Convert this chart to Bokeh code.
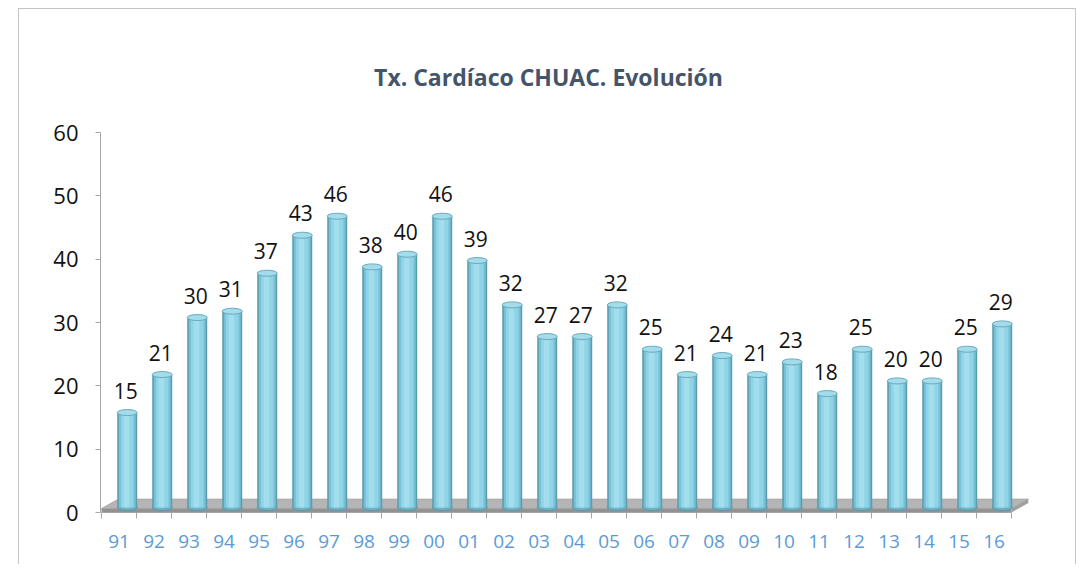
from bokeh.plotting import figure
from bokeh.models import Range1d, FixedTicker, ColumnDataSource, Label
from bokeh.transform import dodge
from bokeh.embed import file_html
from bokeh.resources import INLINE
from bokeh.core.properties import value

# ---- data ----
years = ["91", "92", "93", "94", "95", "96", "97", "98", "99", "00", "01", "02", "03",
         "04", "05", "06", "07", "08", "09", "10", "11", "12", "13", "14", "15", "16"]
transplants = [15, 21, 30, 31, 37, 43, 46, 38, 40, 46, 39, 32, 27,
               27, 32, 25, 21, 24, 21, 23, 18, 25, 20, 20, 25, 29]
y_ticks = [0, 10, 20, 30, 40, 50, 60]
title_text = "Tx. Cardíaco CHUAC. Evolución"

# ---- geometry helpers (pixel scale) ----
PX_X = 35.0           # px per category
PX_Y = 380.0 / 60.0   # px per unit
lift = 0.78           # 3D depth lift of bars (units)
shift = 0.235         # 3D depth shift of bars (categories)

idx = list(range(len(years)))
src = ColumnDataSource(dict(
    x=idx,
    top=[v + lift for v in transplants],
    base=[lift] * len(transplants),
    label=[str(v) for v in transplants],
    ly=transplants,
))

x0 = -0.5 - 1.0 / PX_X
frame_w = 935
frame_h = 462
p = figure(width=1058, height=556,
           x_range=Range1d(x0, x0 + frame_w / PX_X),
           y_range=Range1d(0, frame_h / PX_Y),
           output_backend="svg", toolbar_location=None,
           min_border_left=81, min_border_right=42,
           min_border_top=41, min_border_bottom=53)
p.styles = {"margin-left": "18px", "margin-top": "8px",
            "border-top": "1px solid #C4C4C4",
            "border-left": "1px solid #C4C4C4",
            "border-right": "1px solid #C4C4C4"}
p.outline_line_color = None
p.xgrid.visible = False
p.ygrid.visible = False
p.background_fill_color = "white"
p.border_fill_color = "white"

# ---- floor ----
n = len(years)
fx0, fx1 = -0.5, n - 0.5
ddx = 0.48
p.patch([fx0, fx1, fx1 + ddx, fx0 + ddx], [0.6, 0.6, 2.1, 2.1],
        fill_color="#B5B5B5", line_color="#A3A3A3", line_width=1)
p.patch([fx0, fx1, fx1, fx0], [0, 0, 0.6, 0.6],
        fill_color="#929292", line_color=None)
p.patch([fx1, fx1 + ddx, fx1 + ddx, fx1], [0, 1.5, 2.1, 0.6],
        fill_color="#A0A0A0", line_color=None)

# ---- cylinders ----
xs = dodge("x", shift, range=p.x_range)
bw = 20.0 / PX_X
eh = 6.0 / PX_Y
p.ellipse(x=xs, y="base", width=bw, height=eh, source=src,
          fill_color="#6FB2C6", line_color="#5B97A8", line_width=1)
p.vbar(x=xs, bottom="base", top="top", width=bw, source=src,
       fill_color="#5B9CAF", line_color=None)
p.vbar(x=xs, bottom="base", top="top", width=bw * 0.84, source=src,
       fill_color="#7BC1D6", line_color=None)
p.vbar(x=xs, bottom="base", top="top", width=bw * 0.62, source=src,
       fill_color="#8FD4E7", line_color=None)
p.vbar(x=dodge("x", shift - 0.02, range=p.x_range), bottom="base", top="top",
       width=bw * 0.28, source=src, fill_color="#A4DEEE", line_color=None)
p.ellipse(x=xs, y="top", width=bw, height=eh, source=src,
          fill_color="#A3DCEB", line_color="#6AAABD", line_width=1)

# ---- value labels ----
p.text(x=dodge("x", 0.19, range=p.x_range), y="ly", text="label", source=src,
       text_align="center", text_baseline="middle", y_offset=-27,
       text_font=value("Open Sans"), text_font_size=value("21px"),
       text_color="#111111")

# ---- axes ----
ya = p.yaxis[0]
ya.ticker = FixedTicker(ticks=y_ticks)
ya.bounds = (0, 60)
ya.axis_line_color = "#A6A6A6"
ya.major_tick_line_color = "#A6A6A6"
ya.major_tick_in = 0
ya.major_tick_out = 5
ya.minor_tick_line_color = None
ya.major_label_standoff = 17
ya.major_label_text_font = "Open Sans"
ya.major_label_text_font_size = "22px"
ya.major_label_text_color = "#111111"

xa = p.xaxis[0]
xa.ticker = FixedTicker(ticks=idx, minor_ticks=[i - 0.5 for i in range(n + 1)])
xa.bounds = (fx0, fx1)
xa.major_label_overrides = {i: years[i] for i in idx}
xa.axis_line_color = "#A6A6A6"
xa.major_tick_line_color = None
xa.major_tick_in = 0
xa.major_tick_out = 0
xa.minor_tick_line_color = "#A6A6A6"
xa.minor_tick_in = 0
xa.minor_tick_out = 6
xa.major_label_standoff = 16
xa.major_label_text_font = "Open Sans"
xa.major_label_text_font_size = "19px"
xa.major_label_text_color = "#5B9BD5"

# ---- title ----
title = Label(x=x0 + 448 / PX_X, y=(512 - 76) / PX_Y, text=title_text,
              text_align="center", text_baseline="alphabetic",
              text_font="Open Sans", text_font_style="bold",
              text_font_size="23px", text_color="#44546A")
p.add_layout(title)

open("out.html", "w").write(file_html(p, INLINE))
